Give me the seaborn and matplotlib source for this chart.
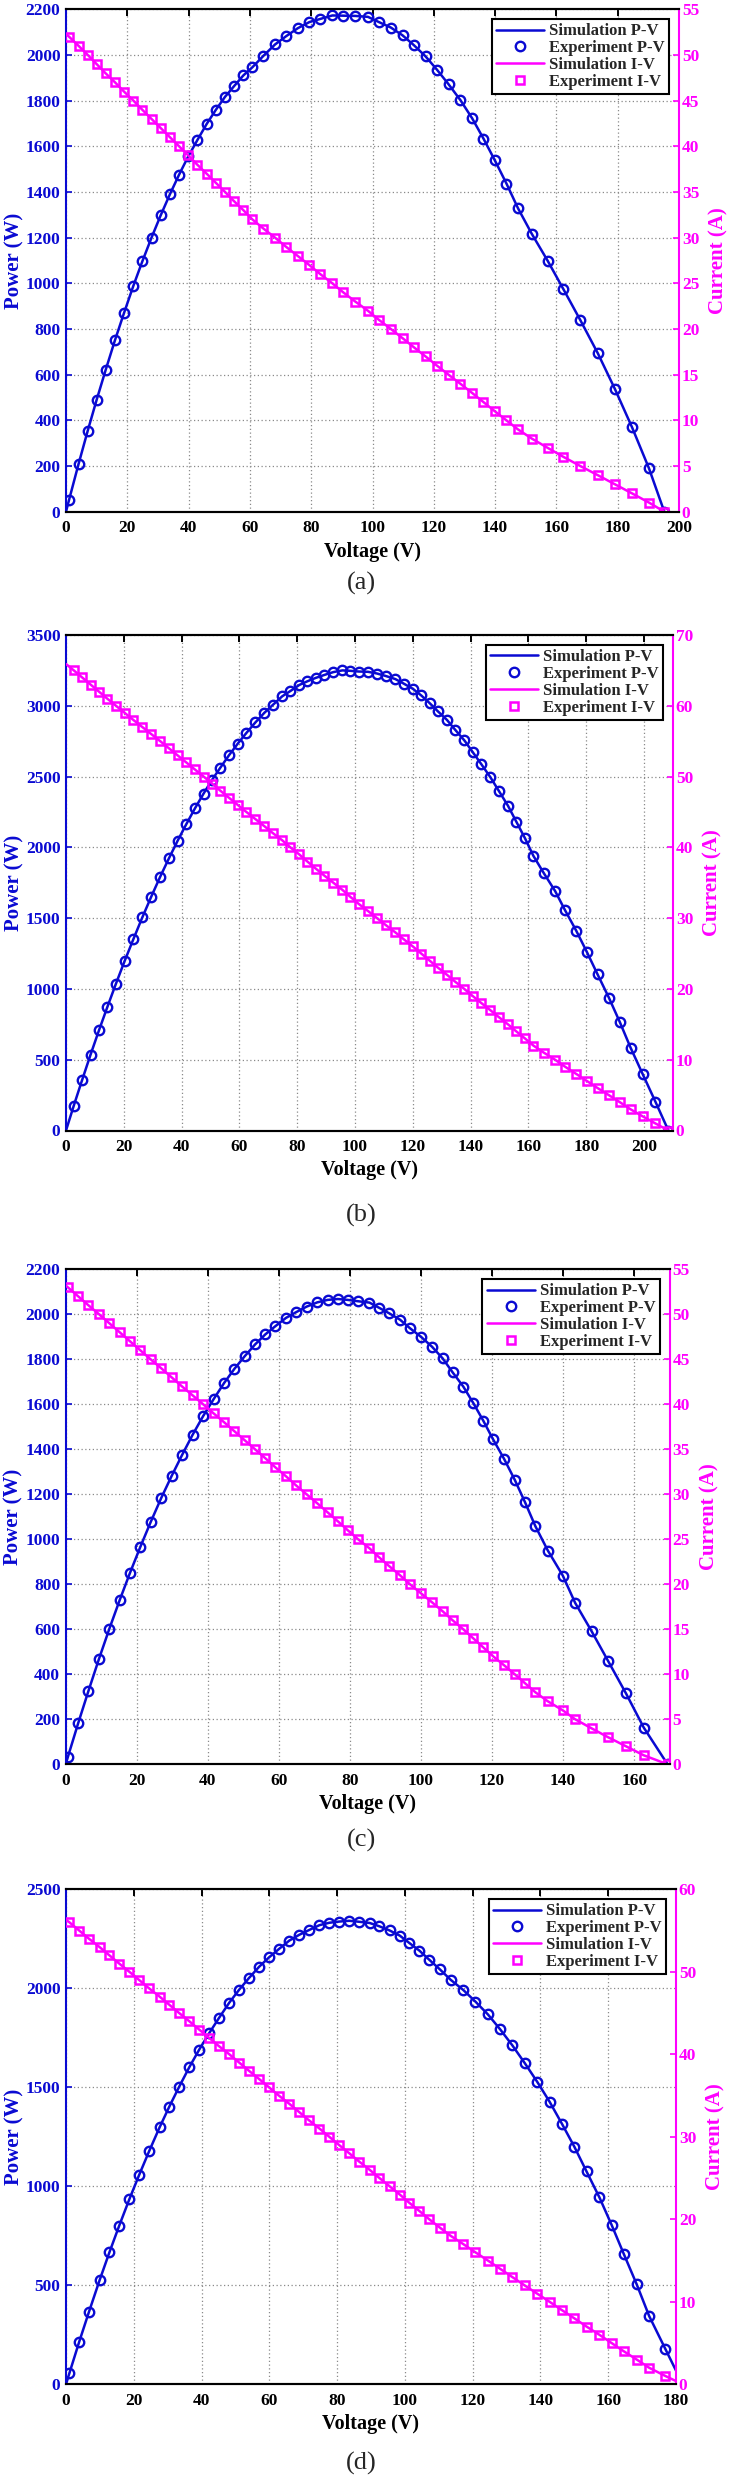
import matplotlib
matplotlib.use('Agg')
import matplotlib.pyplot as plt
import seaborn as sns

# ---- data ----
# panel (a)
cur_a = [52, 51, 50, 49, 48, 47, 46, 45, 44, 43, 42, 41, 40, 39, 38, 37, 36, 35, 34, 33, 32, 31, 30, 29, 28, 27,
         26, 25, 24, 23, 22, 21, 20, 19, 18, 17, 16, 15, 14, 13, 12, 11, 10, 9, 8, 7, 6, 5, 4, 3, 2, 1, 0]
volt_a = [1.0, 4.1, 7.1, 10.0, 12.9, 16.0, 18.9, 22.0, 24.9, 27.9, 30.9, 33.9, 36.9, 39.9, 42.8, 45.9, 48.9, 51.9,
          54.8, 57.9, 60.8, 64.4, 68.2, 71.8, 75.6, 79.4, 83.0, 86.9, 90.5, 94.4, 98.5, 102.1, 106.0, 109.8, 113.5,
          117.3, 121.0, 124.8, 128.7, 132.5, 136.2, 139.9, 143.7, 147.5, 152.0, 157.1, 162.3, 167.8, 173.5, 179.1,
          184.7, 190.2, 195.2]
pow_a = [52, 209, 355, 490, 619, 752, 869, 990, 1096, 1200, 1298, 1390, 1476, 1556, 1626, 1698, 1760, 1817, 1863,
         1911, 1946, 1996, 2046, 2082, 2117, 2144, 2158, 2173, 2172, 2171, 2167, 2144, 2120, 2086, 2043, 1994, 1936,
         1872, 1802, 1723, 1634, 1539, 1437, 1328, 1216, 1100, 974, 839, 694, 537, 369, 190, 0]

# panel (b)
cur_b = [65, 64, 63, 62, 61, 60, 59, 58, 57, 56, 55, 54, 53, 52, 51, 50, 49, 48, 47, 46, 45, 44, 43, 42, 41, 40,
         39, 38, 37, 36, 35, 34, 33, 32, 31, 30, 29, 28, 27, 26, 25, 24, 23, 22, 21, 20, 19, 18, 17, 16, 15, 14,
         13, 12, 11, 10, 9, 8, 7, 6, 5, 4, 3, 2, 1, 0]
volt_b = [2.7, 5.6, 8.5, 11.4, 14.3, 17.3, 20.3, 23.3, 26.4, 29.5, 32.6, 35.6, 38.6, 41.6, 44.6, 47.6, 50.6, 53.4,
          56.4, 59.4, 62.4, 65.5, 68.6, 71.6, 74.8, 77.6, 80.7, 83.5, 86.4, 89.4, 92.5, 95.6, 98.4, 101.3, 104.5,
          107.6, 110.7, 113.9, 116.9, 120.0, 122.9, 125.8, 128.7, 131.8, 134.7, 137.8, 140.7, 143.7, 146.8, 149.8,
          152.9, 155.8, 158.8, 161.7, 165.3, 169.2, 172.7, 176.5, 180.2, 183.9, 187.8, 191.6, 195.3, 199.5, 203.9,
          208.4]
pow_b = [176, 358, 536, 707, 872, 1038, 1198, 1351, 1505, 1652, 1793, 1922, 2046, 2163, 2275, 2380, 2479, 2563,
         2651, 2732, 2808, 2882, 2950, 3007, 3067, 3104, 3147, 3173, 3197, 3218, 3238, 3250, 3247, 3242, 3240,
         3228, 3210, 3189, 3156, 3120, 3073, 3019, 2960, 2900, 2829, 2756, 2673, 2587, 2496, 2397, 2294, 2181,
         2064, 1940, 1818, 1692, 1554, 1412, 1261, 1103, 939, 766, 586, 399, 204, 0]

# panel (c)
cur_c = [53, 52, 51, 50, 49, 48, 47, 46, 45, 44, 43, 42, 41, 40, 39, 38, 37, 36, 35, 34, 33, 32, 31, 30, 29, 28,
         27, 26, 25, 24, 23, 22, 21, 20, 19, 18, 17, 16, 15, 14, 13, 12, 11, 10, 9, 8, 7, 6, 5, 4, 3, 2, 1, 0]
volt_c = [0.6, 3.5, 6.4, 9.4, 12.3, 15.2, 18.1, 21.0, 23.9, 26.9, 29.8, 32.7, 35.7, 38.7, 41.6, 44.6, 47.5, 50.4,
          53.3, 56.2, 59.0, 62.0, 64.8, 67.8, 70.8, 73.7, 76.6, 79.4, 82.3, 85.5, 88.2, 91.1, 94.1, 96.9, 100.0,
          103.1, 106.1, 108.9, 111.9, 114.7, 117.5, 120.3, 123.4, 126.4, 129.3, 132.2, 135.7, 139.9, 143.4, 148.0,
          152.7, 157.7, 162.7, 169.4]
pow_c = [32, 182, 326, 470, 603, 730, 851, 966, 1076, 1184, 1281, 1373, 1464, 1548, 1622, 1695, 1758, 1814, 1866,
         1911, 1947, 1984, 2009, 2034, 2053, 2064, 2068, 2064, 2058, 2052, 2029, 2004, 1976, 1938, 1900, 1856, 1804,
         1742, 1679, 1606, 1528, 1444, 1357, 1264, 1164, 1058, 950, 839, 717, 592, 458, 315, 163, 0]

# panel (d)
cur_d = [56, 55, 54, 53, 52, 51, 50, 49, 48, 47, 46, 45, 44, 43, 42, 41, 40, 39, 38, 37, 36, 35, 34, 33, 32, 31,
         30, 29, 28, 27, 26, 25, 24, 23, 22, 21, 20, 19, 18, 17, 16, 15, 14, 13, 12, 11, 10, 9, 8, 7, 6, 5, 4, 3,
         2, 1, 0]
volt_d = [1.0, 3.9, 6.8, 9.9, 12.8, 15.7, 18.7, 21.6, 24.5, 27.6, 30.5, 33.4, 36.4, 39.3, 42.2, 45.1, 48.2, 51.1,
          54.0, 57.0, 59.9, 62.8, 65.9, 68.8, 71.7, 74.8, 77.7, 80.6, 83.6, 86.5, 89.6, 92.5, 95.5, 98.5, 101.3,
          104.3, 107.2, 110.3, 113.5, 117.2, 120.8, 124.5, 128.1, 131.7, 135.3, 139.0, 142.7, 146.3, 150.0, 153.6,
          157.4, 161.0, 164.6, 168.4, 172.1, 176.9, 182.0]
pow_d = [56, 215, 367, 525, 666, 801, 935, 1058, 1176, 1297, 1403, 1503, 1602, 1690, 1772, 1849, 1928, 1993, 2052,
         2109, 2156, 2198, 2241, 2270, 2294, 2319, 2331, 2337, 2341, 2336, 2330, 2313, 2292, 2266, 2229, 2190, 2144,
         2096, 2043, 1992, 1933, 1868, 1793, 1712, 1624, 1529, 1427, 1317, 1200, 1075, 944, 805, 658, 505, 344, 177, 0]

# short-circuit current where the simulated I-V starts (V = 0)
isc = [52.3, 65.9, 53.2, 56.3]

xmax = [200, 210, 170, 180]
pmax = [2200, 3500, 2200, 2500]
pstep = [200, 500, 200, 500]
imax = [55, 70, 55, 60]
istep = [5, 10, 5, 10]
captions = ['(a)', '(b)', '(c)', '(d)']

sns.set_style('white')
plt.rcParams['font.family'] = ['Liberation Serif', 'DejaVu Serif']

BLUE = '#0a0ad2'
MAG = '#ff00ff'

W, H = 736, 2481
# axes boxes in pixels: left, top, right, bottom
boxes = [(66, 9.3, 679, 511.7), (66, 635, 673, 1130.5), (65.7, 1269.3, 669.7, 1764.3), (66, 1889.3, 676, 2384.3)]
cap_y = [583, 1215, 1840, 2463]

fig = plt.figure(figsize=(W / 100, H / 100), dpi=100)

data = [(volt_a, cur_a, pow_a), (volt_b, cur_b, pow_b), (volt_c, cur_c, pow_c), (volt_d, cur_d, pow_d)]

for k, (v, i, p) in enumerate(data):
    l, t, r, b = boxes[k]
    ax = fig.add_axes([l / W, 1 - b / H, (r - l) / W, (b - t) / H])
    ax2 = ax.twinx()

    # P-V
    sns.lineplot(x=[0] + v, y=[0] + p, ax=ax, color=BLUE, lw=1.8, sort=False, estimator=None,
                 legend=False, label='Simulation P-V')
    sns.lineplot(x=v, y=p, ax=ax, color=BLUE, linestyle='none', marker='o', markersize=6.8,
                 markerfacecolor='none', markeredgecolor=BLUE, markeredgewidth=1.7,
                 sort=False, estimator=None, legend=False, label='Experiment P-V')
    # I-V
    sns.lineplot(x=[0] + v, y=[isc[k]] + i, ax=ax2, color=MAG, lw=1.8, sort=False, estimator=None,
                 legend=False, label='Simulation I-V')
    sns.lineplot(x=v, y=i, ax=ax2, color=MAG, linestyle='none', marker='s', markersize=5.2,
                 markerfacecolor='none', markeredgecolor=MAG, markeredgewidth=1.8,
                 sort=False, estimator=None, legend=False, label='Experiment I-V')

    ax.set_xlim(0, xmax[k])
    ax.set_ylim(0, pmax[k])
    ax2.set_ylim(0, imax[k])
    ax.set_xticks(range(0, xmax[k] + 1, 20))
    ax.set_yticks(range(0, pmax[k] + 1, pstep[k]))
    ax2.set_yticks(range(0, imax[k] + 1, istep[k]))

    ax.grid(True, color='#8a8a8a', linestyle=(0, (1, 2)), lw=0.9)

    ax.tick_params(axis='x', direction='in', top=True, length=5, width=1.4, colors='black',
                   labelsize=12.5, pad=6)
    ax.tick_params(axis='y', direction='in', length=4, width=1.2, colors=BLUE, labelsize=12.5, pad=4)
    ax2.tick_params(axis='y', direction='in', length=4, width=1.2, colors=MAG, labelsize=12.5, pad=2)
    for lab in ax.get_xticklabels() + ax.get_yticklabels() + ax2.get_yticklabels():
        lab.set_fontweight('bold')

    for a in (ax, ax2):
        for s in a.spines.values():
            s.set_linewidth(1.5)
            s.set_color('black')
    ax.spines['left'].set_color(BLUE)
    ax2.spines['left'].set_visible(False)
    ax.spines['right'].set_visible(False)
    ax2.spines['right'].set_color(MAG)

    ax.set_xlabel('Voltage (V)', fontsize=14.5, fontweight='bold', color='black', labelpad=4)
    ax.set_ylabel('Power (W)', fontsize=15, fontweight='bold', color=BLUE, labelpad=1)
    ax2.set_ylabel('Current (A)', fontsize=15, fontweight='bold', color=MAG, labelpad=7)

    h1, l1 = ax.get_legend_handles_labels()
    h2, l2 = ax2.get_legend_handles_labels()
    leg = ax2.legend(h1 + h2, l1 + l2, loc='upper right', frameon=True, fancybox=False,
                     edgecolor='black', framealpha=1, prop={'weight': 'bold', 'size': 12},
                     handlelength=2.9, labelspacing=0.05, borderpad=0.25, handletextpad=0.3,
                     borderaxespad=0.6)
    leg.get_frame().set_linewidth(1.5)

    fig.text(361 / W, 1 - cap_y[k] / H, captions[k], ha='center', va='center', fontsize=19)

fig.savefig('out.png', dpi=100)
